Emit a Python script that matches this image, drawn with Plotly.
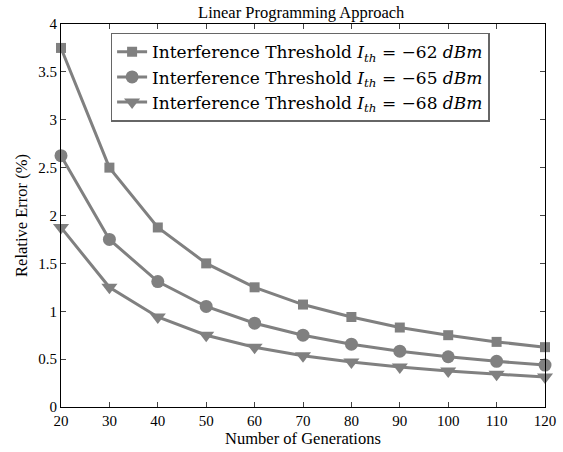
import plotly.graph_objects as go

generations = [20, 30, 40, 50, 60, 70, 80, 90, 100, 110, 120]
err_62 = [3.75, 2.50, 1.875, 1.50, 1.25, 1.07, 0.94, 0.83, 0.75, 0.68, 0.625]
err_65 = [2.625, 1.75, 1.31, 1.05, 0.875, 0.75, 0.656, 0.583, 0.525, 0.477, 0.4375]
err_68 = [1.875, 1.25, 0.94, 0.75, 0.625, 0.536, 0.469, 0.417, 0.375, 0.341, 0.3125]
names = [
    "Interference Threshold <i>I</i><sub><i>th</i></sub> = −62 <i>dBm</i>",
    "Interference Threshold <i>I</i><sub><i>th</i></sub> = −65 <i>dBm</i>",
    "Interference Threshold <i>I</i><sub><i>th</i></sub> = −68 <i>dBm</i>",
]
symbols = ["square", "circle", "triangle-down"]
sizes = [10, 13, 14]
color = "rgb(128,128,128)"

fig = go.Figure()
for ys, nm, sym, sz in zip([err_62, err_65, err_68], names, symbols, sizes):
    fig.add_trace(go.Scatter(
        x=generations, y=ys, name=nm, mode="lines+markers",
        line=dict(color=color, width=3),
        marker=dict(symbol=sym, size=sz, color=color),
        cliponaxis=False,
    ))

font = "Liberation Serif, Times New Roman, serif"
fig.update_layout(
    width=563, height=452,
    margin=dict(l=61, r=18, t=24, b=45),
    paper_bgcolor="white", plot_bgcolor="white",
    font=dict(family=font, size=15, color="black"),
    title=dict(text="Linear Programming Approach", x=0.535, xanchor="center",
               y=0.972, yanchor="middle", font=dict(size=16.5, family=font)),
    legend=dict(x=0.494, xanchor="center", y=0.977, yanchor="top",
                bgcolor="white", bordercolor="#666", borderwidth=1.5,
                font=dict(size=17, family="DejaVu Serif, serif"), tracegroupgap=0,
                itemwidth=30),
    showlegend=True,
)
fig.update_xaxes(range=[20, 120], tickvals=generations, ticks="inside", ticklen=5,
                 showline=True, linecolor="black", linewidth=1, mirror="ticks",
                 showgrid=False, zeroline=False, automargin=False,
                 title=dict(text="Number of Generations", font=dict(size=16.5), standoff=2))
fig.update_yaxes(range=[0, 4], tickvals=[0, 0.5, 1, 1.5, 2, 2.5, 3, 3.5, 4],
                 ticktext=["0", "0.5", "1", "1.5", "2", "2.5", "3", "3.5", "4"],
                 ticks="inside", ticklen=5,
                 showline=True, linecolor="black", linewidth=1, mirror="ticks",
                 showgrid=False, zeroline=False, automargin=False,
                 title=dict(text="Relative Error (%)", font=dict(size=16.5), standoff=6))
fig.write_html("out.html", config={"displayModeBar": False},
               post_script="document.body.style.margin='0';")
